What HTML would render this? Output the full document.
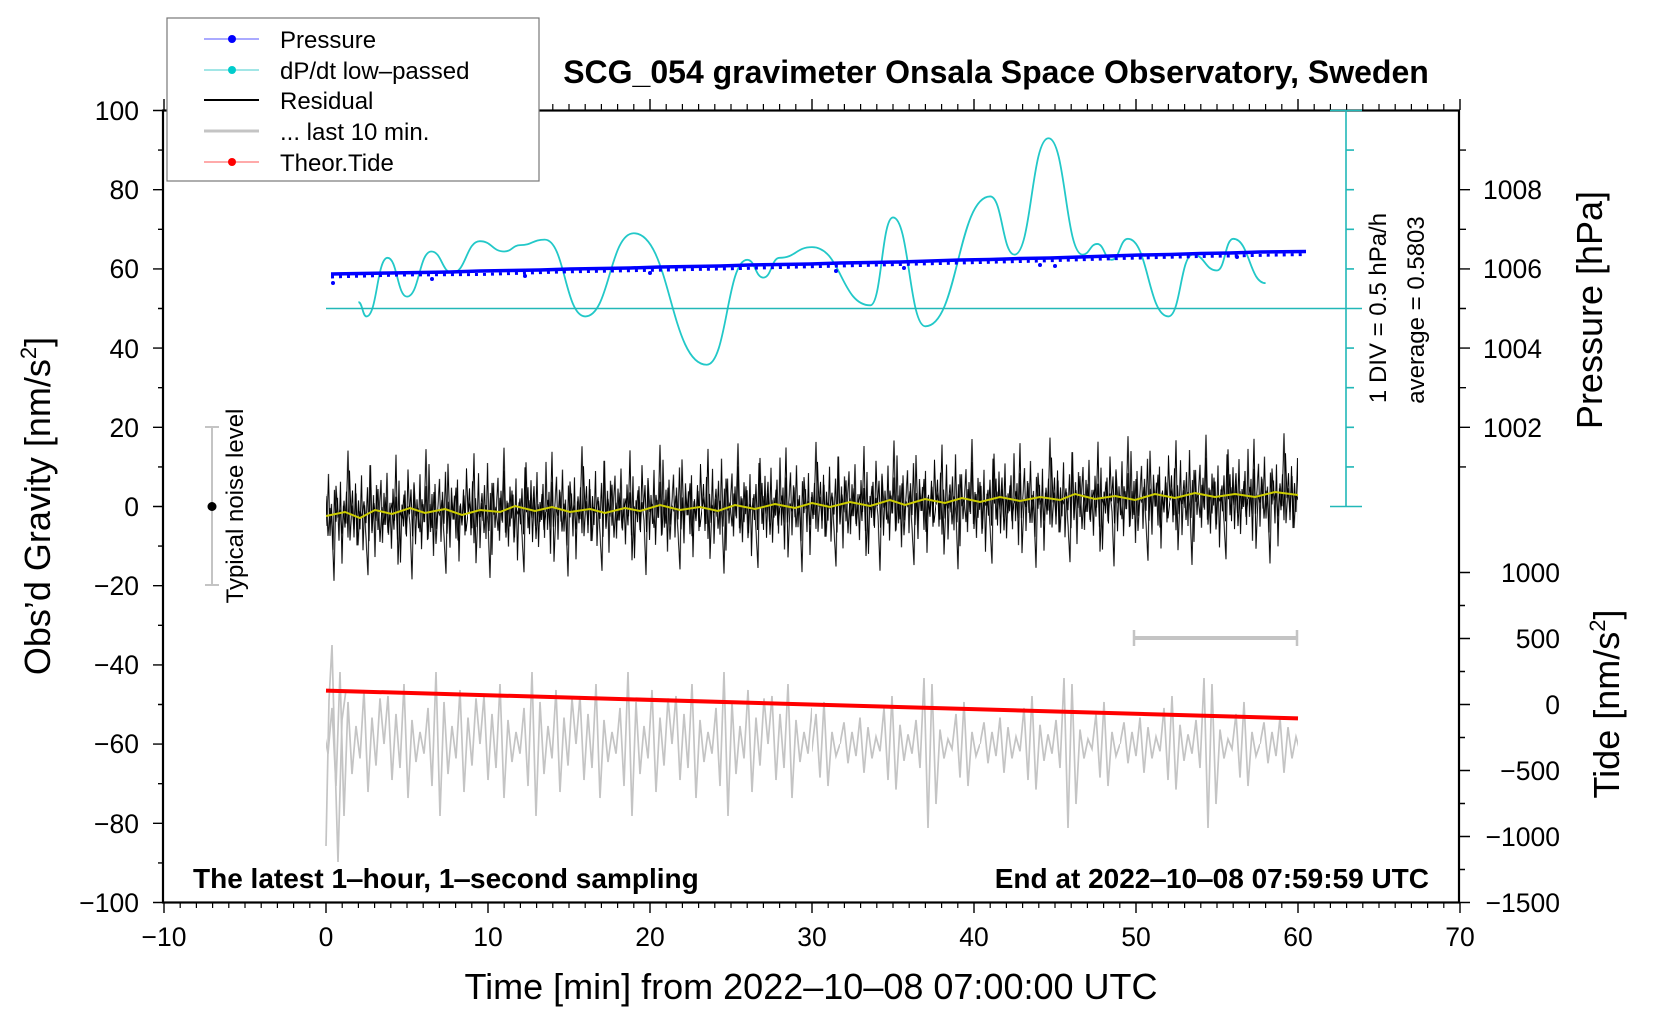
<!DOCTYPE html>
<html><head><meta charset="utf-8"><style>
html,body{margin:0;padding:0;background:#fff;}
svg{display:block;font-family:"Liberation Sans",sans-serif;}
</style></head><body>
<svg width="1660" height="1020" viewBox="0 0 1660 1020" xmlns="http://www.w3.org/2000/svg">
<defs>
<pattern id="bA" patternUnits="userSpaceOnUse" x="0" y="-70" width="58.5" height="140">
<path d="M0 70L1.5 45L3 92L4.5 38L6 100L7.5 55L9 84L10.5 30L12 105L13.5 60L15 78L16.5 42L18 96L19.5 20L21 88L22.5 50L24 112L25.5 40L27 85L28.5 62L30 35L31.5 98L33 48L34.5 80L36 28L37.5 90L39 58L40.5 104L42 44L43.5 76L45 52L46.5 95L48 36L49.5 118L51 60L52.5 82L54 46L55.5 92L57 25L58.5 70" fill="none" stroke="#000" stroke-width="1"/>
</pattern>
<pattern id="bB" patternUnits="userSpaceOnUse" x="0" y="-70" width="78" height="140">
<path d="M0 70L2 58L4 85L6 10L8 120L10 66L12 74L14 50L16 90L18 62L20 80L22 135L24 40L26 72L28 64L30 88L32 55L34 78L36 5L38 95L40 60L42 84L44 48L46 100L48 66L50 72L52 56L54 92L56 130L58 20L60 86L62 58L64 76L66 44L68 97L70 62L72 80L74 52L76 88L78 70" fill="none" stroke="#000" stroke-width="1"/>
</pattern>
<pattern id="gA" patternUnits="userSpaceOnUse" x="0" y="664" width="96" height="160">
<path d="M0 80L4 40L8 110L12 55L16 100L20 30L24 125L28 60L32 95L36 70L40 88L44 50L48 115L52 20L56 140L60 45L64 105L68 65L72 92L76 35L80 120L84 58L88 98L92 42L96 80" fill="none" stroke="#c4c4c4" stroke-width="1.7"/>
</pattern>
<pattern id="gB" patternUnits="userSpaceOnUse" x="0" y="664" width="140" height="160">
<path d="M0 80L4 62L8 96L12 70L16 90L20 58L24 104L28 66L32 92L36 74L40 86L44 50L48 110L52 40L56 118L60 64L64 94L68 72L72 88L76 60L80 100L84 25L88 150L92 30L96 130L100 68L104 92L108 76L112 84L116 55L120 108L124 45L128 115L132 70L136 90L140 80" fill="none" stroke="#c4c4c4" stroke-width="1.7"/>
</pattern>
</defs>
<rect width="1660" height="1020" fill="#fff"/>

<!-- gray last 10 min -->
<g transform="translate(0,744) scale(1,1.2) translate(0,-744)">
<rect x="326" y="664" width="486" height="160" fill="url(#gA)"/>
<rect x="812" y="664" width="486" height="160" fill="url(#gB)"/>
</g>
<path d="M326 846L329 700L332 645L335 760L338 862L342 720L346 690" fill="none" stroke="#c4c4c4" stroke-width="1.7"/>

<!-- red tide -->
<line x1="326" y1="690.6" x2="1298" y2="718.4" stroke="#f00" stroke-width="4"/>

<!-- residual black -->
<g transform="matrix(1,-0.0185,0,1,0,522)">
<rect x="326" y="-70" width="972" height="140" fill="url(#bA)"/>
<rect x="326" y="-70" width="972" height="140" fill="url(#bB)"/>
</g>
<!-- yellow -->
<path d="M326 516L345 512L360 518L375 510L392 514L410 508L425 513L445 509L462 515L480 510L500 512L515 506L535 511L552 507L570 512L590 509L605 513L625 508L640 511L660 505L680 510L700 507L718 511L735 505L755 509L775 504L795 508L812 503L830 507L850 502L870 506L890 500L905 505L925 499L945 503L962 498L980 502L1000 497L1020 501L1040 497L1060 500L1075 494L1095 499L1115 496L1135 500L1155 494L1175 498L1195 493L1215 497L1235 494L1255 497L1275 492L1298 495" fill="none" stroke="#cccc00" stroke-width="2"/>

<!-- cyan dP/dt -->
<g transform="matrix(16.2,0,0,-3.96,326,506.5)">
<path vector-effect="non-scaling-stroke" fill="none" stroke="#22c8c8" stroke-width="1.8" d="M2 51.6C2.25 51.6 2.25 48 2.5 48C3.15 48 3.15 62.8 3.8 62.8C4.4 62.8 4.4 53 5 53C5.75 53 5.75 64.4 6.5 64.4C7.15 64.4 7.15 59 7.8 59C8.65 59 8.65 67 9.5 67C10.25 67 10.25 64.4 11 64.4C11.5 64.4 11.5 66 12 66C12.75 66 12.75 67.4 13.5 67.4C14.75 67.4 14.75 48 16 48C17.5 48 17.5 69 19 69C21.25 69 21.25 35.8 23.5 35.8C24.75 35.8 24.75 62.3 26 62.3C26.5 62.3 26.5 57.8 27 57.8C27.5 57.8 27.5 62.8 28 62.8C29 62.8 29 65.5 30 65.5C31.8 65.5 31.8 50.8 33.6 50.8C34.3 50.8 34.3 73 35 73C36 73 36 45.5 37 45.5C39 45.5 39 78.3 41 78.3C41.75 78.3 41.75 63.6 42.5 63.6C43.55 63.6 43.55 93 44.6 93C45.65 93 45.65 63.6 46.7 63.6C47.15 63.6 47.15 66.3 47.6 66.3C48.05 66.3 48.05 62.3 48.5 62.3C49 62.3 49 67.6 49.5 67.6C50.75 67.6 50.75 48 52 48C52.75 48 52.75 63.6 53.5 63.6C54.25 63.6 54.25 59.6 55 59.6C55.5 59.6 55.5 67.6 56 67.6C57 67.6 57 56.4 58 56.4"/>
</g>

<!-- pressure -->
<path d="M331 274L360 273.5L390 273L420 272.5L450 272L480 271L510 270.5L540 270L570 269L600 268.5L630 268L660 267L690 266.5L720 266L750 265L780 264.5L810 264L840 263L870 262.5L900 262L930 261L960 260L990 259.5L1020 258.5L1050 258L1080 257L1110 256L1140 255L1170 254.5L1200 253.5L1230 253L1260 252L1306 251.5" fill="none" stroke="#00f" stroke-width="3.5"/>
<path d="M331 275L400 273L480 272.5L560 270L640 268.5L720 267L800 265L880 263L960 261L1040 259L1120 256.5L1200 254.5L1306 252.5" fill="none" stroke="#00f" stroke-width="3" stroke-dasharray="3 5" transform="translate(0,2)"/>
<g fill="#00f"><circle cx="333" cy="283" r="2"/><circle cx="432" cy="279" r="2"/><circle cx="525" cy="276" r="2"/><circle cx="650" cy="273" r="2"/><circle cx="836" cy="271" r="2"/><circle cx="904" cy="268" r="2"/><circle cx="1040" cy="265" r="2"/><circle cx="1055" cy="266" r="2"/><circle cx="1237" cy="257" r="2"/></g>

<!-- frame -->
<rect x="163" y="110.5" width="1296" height="792" fill="none" stroke="#000" stroke-width="2.2"/>
<!-- ticks -->
<path stroke="#000" stroke-width="1.4" fill="none" d="
M153 110.5H163M153 189.7H163M153 268.9H163M153 348.1H163M153 427.3H163M153 506.5H163M153 585.7H163M153 664.9H163M153 744.1H163M153 823.3H163M153 902.5H163
M158 150.1H163M158 229.3H163M158 308.5H163M158 387.7H163M158 466.9H163M158 546.1H163M158 625.3H163M158 704.5H163M158 783.7H163M158 862.9H163
M164 902V913M326 902V913M488 902V913M650 902V913M812 902V913M974 902V913M1136 902V913M1298 902V913M1460 902V913
M164 110V99M326 110V99M488 110V99M650 110V99M812 110V99M974 110V99M1136 110V99M1298 110V99M1460 110V99
M1459 189.7H1470M1459 268.9H1470M1459 348.1H1470M1459 427.3H1470M1459 150.1H1466M1459 229.3H1466M1459 308.5H1466M1459 387.7H1466M1459 466.9H1466
M1459 572.5H1470M1459 638.5H1470M1459 704.5H1470M1459 770.5H1470M1459 836.5H1470M1459 902.5H1470
M1459 605.5H1465M1459 671.5H1465M1459 737.5H1465M1459 803.5H1465M1459 869.5H1465"/>
<path id="mt" stroke="#000" stroke-width="1.2" fill="none" d="
M180.2 902V908M196.4 902V908M212.6 902V908M228.8 902V908M245 902V908M261.2 902V908M277.4 902V908M293.6 902V908M309.8 902V908
M342.2 902V908M358.4 902V908M374.6 902V908M390.8 902V908M407 902V908M423.2 902V908M439.4 902V908M455.6 902V908M471.8 902V908
M504.2 902V908M520.4 902V908M536.6 902V908M552.8 902V908M569 902V908M585.2 902V908M601.4 902V908M617.6 902V908M633.8 902V908
M666.2 902V908M682.4 902V908M698.6 902V908M714.8 902V908M731 902V908M747.2 902V908M763.4 902V908M779.6 902V908M795.8 902V908
M828.2 902V908M844.4 902V908M860.6 902V908M876.8 902V908M893 902V908M909.2 902V908M925.4 902V908M941.6 902V908M957.8 902V908
M990.2 902V908M1006.4 902V908M1022.6 902V908M1038.8 902V908M1055 902V908M1071.2 902V908M1087.4 902V908M1103.6 902V908M1119.8 902V908
M1152.2 902V908M1168.4 902V908M1184.6 902V908M1200.8 902V908M1217 902V908M1233.2 902V908M1249.4 902V908M1265.6 902V908M1281.8 902V908
M1314.2 902V908M1330.4 902V908M1346.6 902V908M1362.8 902V908M1379 902V908M1395.2 902V908M1411.4 902V908M1427.6 902V908M1443.8 902V908"/>
<use href="#mt" transform="translate(0,1012) scale(1,-1)"/>

<!-- tick labels -->
<g font-size="26.5" text-anchor="end">
<text x="139" y="120">100</text><text x="139" y="199">80</text><text x="139" y="278">60</text><text x="139" y="358">40</text><text x="139" y="437">20</text><text x="139" y="516">0</text>
<text x="139" y="595">−20</text><text x="139" y="674">−40</text><text x="139" y="753">−60</text><text x="139" y="833">−80</text><text x="139" y="912">−100</text>
</g>
<g font-size="26.5" text-anchor="middle">
<text x="164" y="946">−10</text><text x="326" y="946">0</text><text x="488" y="946">10</text><text x="650" y="946">20</text><text x="812" y="946">30</text><text x="974" y="946">40</text><text x="1136" y="946">50</text><text x="1298" y="946">60</text><text x="1460" y="946">70</text>
</g>
<g font-size="26.5">
<text x="1483" y="199">1008</text><text x="1483" y="278">1006</text><text x="1483" y="358">1004</text><text x="1483" y="437">1002</text>
</g>
<g font-size="26.5" text-anchor="end">
<text x="1560" y="582">1000</text><text x="1560" y="648">500</text><text x="1560" y="714">0</text><text x="1560" y="780">−500</text><text x="1560" y="846">−1000</text><text x="1560" y="912">−1500</text>
</g>

<!-- cyan scale -->
<g stroke="#22b8b8" stroke-width="1.6" fill="none">
<path d="M1346 110.5V506.5M1330 110.5H1362M1330 506.5H1362M326 308.5H1362
M1346 150.1H1354M1346 189.7H1354M1346 229.3H1354M1346 268.9H1354M1346 348.1H1354M1346 387.7H1354M1346 427.3H1354M1346 466.9H1354"/>
</g>
<text transform="translate(1386,308) rotate(-90)" text-anchor="middle" font-size="24">1 DIV = 0.5 hPa/h</text>
<text transform="translate(1424,310) rotate(-90)" text-anchor="middle" font-size="24">average = 0.5803</text>

<!-- noise bar -->
<g stroke="#c4c4c4" stroke-width="2"><line x1="212" y1="427" x2="212" y2="585"/><line x1="205" y1="427" x2="219" y2="427"/><line x1="205" y1="585" x2="219" y2="585"/></g>
<circle cx="212" cy="506.5" r="4.5" fill="#000"/>
<text transform="translate(243,506) rotate(-90)" text-anchor="middle" font-size="24">Typical noise level</text>

<!-- gray bar -->
<g stroke="#c4c4c4"><line x1="1134" y1="638" x2="1297" y2="638" stroke-width="4"/><line x1="1134" y1="630" x2="1134" y2="646" stroke-width="2.5"/><line x1="1297" y1="630" x2="1297" y2="646" stroke-width="2.5"/></g>

<!-- titles -->
<text x="996" y="83" text-anchor="middle" font-size="32" font-weight="bold">SCG_054 gravimeter Onsala Space Observatory, Sweden</text>
<text x="193" y="888" font-size="28" font-weight="bold">The latest 1‒hour, 1‒second sampling</text>
<text x="1429" y="888" text-anchor="end" font-size="28" font-weight="bold">End at 2022‒10‒08 07:59:59 UTC</text>
<text x="811" y="999" text-anchor="middle" font-size="36">Time [min] from 2022‒10‒08 07:00:00 UTC</text>
<text transform="translate(50,506) rotate(-90)" text-anchor="middle" font-size="36">Obs’d Gravity [nm/s<tspan dy="-14" font-size="22">2</tspan><tspan dy="14">]</tspan></text>
<text transform="translate(1602,310) rotate(-90)" text-anchor="middle" font-size="36">Pressure [hPa]</text>
<text transform="translate(1619,704) rotate(-90)" text-anchor="middle" font-size="36">Tide [nm/s<tspan dy="-14" font-size="22">2</tspan><tspan dy="14">]</tspan></text>

<!-- legend -->
<rect x="167" y="18" width="372" height="163" fill="#fff" stroke="#777" stroke-width="1.2"/>
<g font-size="24">
<line x1="204" y1="39" x2="259" y2="39" stroke="#55f" stroke-width="1"/><circle cx="232" cy="39" r="4" fill="#00f"/><text x="280" y="48">Pressure</text>
<line x1="204" y1="70" x2="259" y2="70" stroke="#4cc" stroke-width="1"/><circle cx="232" cy="70" r="4" fill="#0cc"/><text x="280" y="79">dP/dt low‒passed</text>
<line x1="204" y1="100" x2="259" y2="100" stroke="#000" stroke-width="2"/><text x="280" y="109">Residual</text>
<line x1="204" y1="131" x2="259" y2="131" stroke="#c4c4c4" stroke-width="3"/><text x="280" y="140">... last 10 min.</text>
<line x1="204" y1="162" x2="259" y2="162" stroke="#f55" stroke-width="1"/><circle cx="232" cy="162" r="4" fill="#f00"/><text x="280" y="171">Theor.Tide</text>
</g>
</svg>
</body></html>
